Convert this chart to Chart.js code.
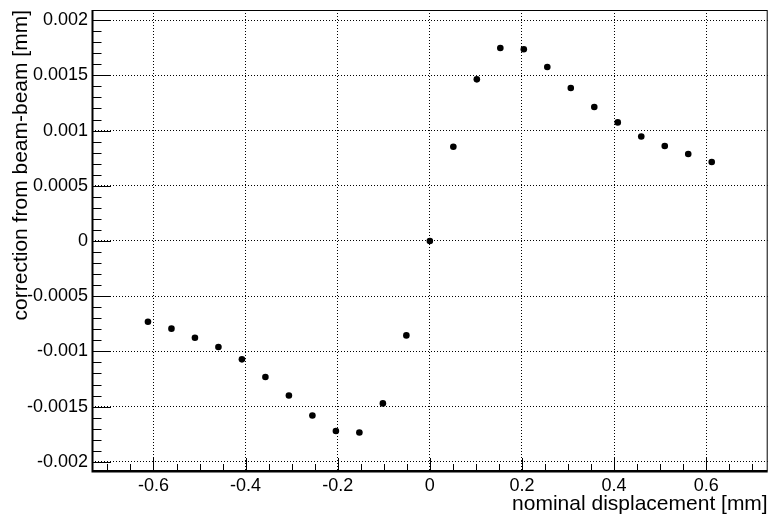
<!DOCTYPE html>
<html>
<head>
<meta charset="utf-8">
<script src="https://cdn.jsdelivr.net/npm/chart.js@4/dist/chart.umd.min.js"></script>
<style>
    html, body { margin: 0; padding: 0; background: #fff; }
    #wrap { width: 771px; height: 523px; }
</style>
</head>
<body>
<div id="wrap"><canvas id="beamChart" width="771" height="523"></canvas></div>
<script>
"use strict";

// nominal displacement [mm]
const displacement = [
    -0.612, -0.561, -0.510, -0.459, -0.408, -0.357, -0.306, -0.255, -0.204, -0.153, -0.102, -0.051,
    0,
    0.051, 0.102, 0.153, 0.204, 0.255, 0.306, 0.357, 0.408, 0.459, 0.510, 0.561, 0.612
];

// correction from beam-beam [mm]
const correction = [
    -0.000731, -0.000794, -0.000876, -0.000960, -0.001072, -0.001232, -0.001399, -0.001580,
    -0.001721, -0.001734, -0.001471, -0.000855,
    0,
    0.000854, 0.001464, 0.001748, 0.001736, 0.001576, 0.001386, 0.001214, 0.001074,
    0.000947, 0.000860, 0.000788, 0.000716
];

const xRange = [-0.7335, 0.7335];
const yRange = [-0.002083, 0.002092];
const xTitle = 'nominal displacement [mm]';
const yTitle = 'correction from beam-beam [mm]';

const FONT = "'Liberation Sans', Arial, Helvetica, sans-serif";

const fmt = (v) => {
    const n = Number(v.toFixed(6));
    return Math.abs(n) < 1e-12 ? '0' : String(n);
};

// ROOT-like frame with ticks pointing inward
const rootFrame = {
    id: 'rootFrame',
    afterDraw(chart) {
        const {ctx, chartArea: a, scales: {x, y}} = chart;
        ctx.save();
        ctx.strokeStyle = '#000';
        ctx.lineWidth = 1;
        ctx.strokeRect(a.left + 0.5, a.top + 0.5, a.right - a.left - 1, a.bottom - a.top - 1);

        ctx.lineWidth = 2;
        ctx.beginPath();
        ctx.moveTo(a.left + 0.5, a.top);
        ctx.lineTo(a.left + 0.5, a.bottom + 0.5);
        ctx.lineTo(a.right, a.bottom + 0.5);
        ctx.stroke();

        ctx.lineWidth = 1;
        ctx.beginPath();
        for (let k = -20; k <= 20; k++) {
            const v = k * 0.05;
            if (v < x.min || v > x.max) continue;
            const px = Math.round(x.getPixelForValue(v)) + 0.5;
            const len = (k % 4 === 0) ? 13 : 7;
            ctx.moveTo(px, a.bottom);
            ctx.lineTo(px, a.bottom - len);
        }
        for (let k = -25; k <= 25; k++) {
            const v = k * 0.0001;
            if (v < y.min || v > y.max) continue;
            const py = Math.round(y.getPixelForValue(v)) + 0.5;
            const len = (k % 5 === 0) ? 19 : 9.5;
            ctx.moveTo(a.left, py);
            ctx.lineTo(a.left + len, py);
        }
        ctx.stroke();
        ctx.restore();
    }
};

new Chart(document.getElementById('beamChart'), {
    type: 'scatter',
    data: {
        datasets: [{
            data: displacement.map((d, i) => ({x: d, y: correction[i]})),
            backgroundColor: '#000',
            borderWidth: 0,
            pointRadius: 3.3,
            pointHoverRadius: 3.3,
            showLine: false
        }]
    },
    options: {
        responsive: false,
        animation: false,
        devicePixelRatio: 1,
        layout: {padding: {top: 10, right: 2, left: 0, bottom: 0}},
        plugins: {legend: {display: false}, tooltip: {enabled: false}},
        scales: {
            x: {
                type: 'linear',
                min: xRange[0],
                max: xRange[1],
                afterFit: (scale) => {
                    scale.height = 52;
                    scale.paddingLeft = 0;
                    scale.paddingRight = 0;
                },
                border: {display: false, dash: [1, 2]},
                grid: {color: '#000', lineWidth: 1, drawTicks: false},
                ticks: {
                    stepSize: 0.2,
                    includeBounds: false,
                    autoSkip: false,
                    maxRotation: 0,
                    padding: 4,
                    color: '#000',
                    font: {family: FONT, size: 18},
                    callback: (v) => fmt(v)
                },
                title: {
                    display: true,
                    text: xTitle,
                    align: 'end',
                    color: '#000',
                    font: {family: FONT, size: 21},
                    padding: {top: 0, bottom: 6}
                }
            },
            y: {
                type: 'linear',
                min: yRange[0],
                max: yRange[1],
                afterFit: (scale) => {
                    scale.width = 92;
                    scale.paddingTop = 0;
                    scale.paddingBottom = 0;
                },
                border: {display: false, dash: [1, 2]},
                grid: {color: '#000', lineWidth: 1, drawTicks: false},
                ticks: {
                    stepSize: 0.0005,
                    includeBounds: false,
                    autoSkip: false,
                    padding: 4,
                    color: '#000',
                    font: {family: FONT, size: 18},
                    callback: (v) => fmt(v)
                },
                title: {
                    display: true,
                    text: yTitle,
                    align: 'end',
                    color: '#000',
                    font: {family: FONT, size: 21},
                    padding: {top: 9, bottom: 0}
                }
            }
        }
    },
    plugins: [rootFrame]
});
</script>
</body>
</html>
